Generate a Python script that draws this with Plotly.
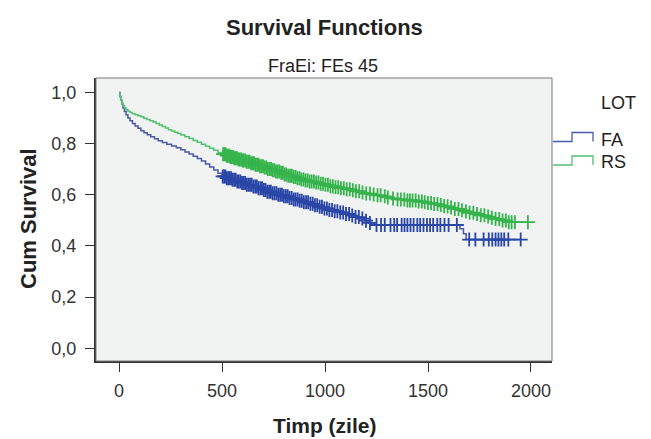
import numpy as np
import plotly.graph_objects as go

# ---------------- data ----------------
# FA group: Kaplan-Meier step points (time in days, cumulative survival)
fa_t = [0, 4, 8, 13, 19, 26, 34, 43, 53, 65, 78, 92, 106, 121, 137, 154, 172, 190, 210, 232,
        255, 278, 300, 320, 340, 360, 380, 400, 420, 440, 460, 480, 500, 520, 545, 570, 595,
        620, 645, 670, 695, 720, 745, 770, 795, 820, 845, 870, 895, 920, 945, 970, 995, 1020,
        1045, 1070, 1095, 1120, 1145, 1170, 1190, 1210, 1240, 1655, 1672, 1685]
fa_s = [1.0, 0.985, 0.97, 0.955, 0.94, 0.926, 0.913, 0.901, 0.89, 0.879, 0.869, 0.86, 0.851,
        0.843, 0.835, 0.827, 0.819, 0.812, 0.805, 0.798, 0.791, 0.784, 0.776, 0.768, 0.76,
        0.751, 0.742, 0.732, 0.721, 0.709, 0.697, 0.684, 0.672, 0.665, 0.659, 0.652, 0.646,
        0.639, 0.633, 0.626, 0.619, 0.612, 0.606, 0.6, 0.594, 0.588, 0.582, 0.577, 0.571,
        0.565, 0.559, 0.553, 0.547, 0.541, 0.536, 0.531, 0.525, 0.519, 0.513, 0.507, 0.499,
        0.49, 0.482, 0.467, 0.448, 0.425]
# FA censored times
fa_cens = [503, 510, 516, 523, 530, 537, 544, 551, 559, 566, 574, 581, 589, 597, 604, 612, 620,
           628, 636, 644, 652, 661, 669, 677, 686, 694, 703, 711, 720, 729, 737, 746, 755, 764,
           773, 782, 791, 800, 810, 819, 828, 838, 848, 857, 867, 877, 887, 897, 908, 918, 929,
           940, 951, 962, 974, 985, 997, 1009, 1021, 1034, 1047, 1060, 1074, 1088, 1102, 1117,
           1132, 1148, 1164, 1181, 1199, 1218, 1250, 1272, 1290, 1318, 1336, 1350, 1372, 1386,
           1400, 1415, 1430, 1448, 1462, 1478, 1495, 1510, 1525, 1545, 1560, 1580, 1600, 1640,
           1700, 1730, 1770, 1795, 1812, 1828, 1842, 1856, 1870, 1890, 1950]

# RS group
rs_t = [0, 4, 8, 13, 19, 26, 34, 43, 53, 65, 78, 92, 106, 120, 135, 150, 165, 180, 195, 210,
        225, 240, 255, 270, 285, 300, 320, 340, 360, 380, 400, 420, 440, 460, 480, 500, 520,
        540, 560, 580, 600, 620, 640, 660, 680, 700, 720, 740, 760, 780, 800, 820, 840, 860,
        880, 900, 925, 950, 975, 1000, 1025, 1050, 1075, 1100, 1125, 1150, 1175, 1200, 1225,
        1250, 1275, 1300, 1325, 1350, 1400, 1450, 1475, 1500, 1525, 1550, 1575, 1600, 1625,
        1650, 1675, 1700, 1725, 1750, 1775, 1800, 1825, 1850, 1880]
rs_s = [1.0, 0.985, 0.97, 0.958, 0.948, 0.94, 0.933, 0.927, 0.922, 0.917, 0.913, 0.909, 0.905,
        0.9, 0.895, 0.89, 0.885, 0.879, 0.873, 0.867, 0.861, 0.855, 0.85, 0.845, 0.84, 0.834,
        0.827, 0.82, 0.813, 0.806, 0.798, 0.79, 0.782, 0.774, 0.766, 0.759, 0.753, 0.748,
        0.743, 0.738, 0.734, 0.729, 0.724, 0.718, 0.712, 0.707, 0.701, 0.696, 0.691, 0.686,
        0.68, 0.675, 0.67, 0.665, 0.66, 0.656, 0.652, 0.648, 0.643, 0.639, 0.634, 0.63, 0.626,
        0.622, 0.618, 0.614, 0.609, 0.605, 0.601, 0.598, 0.594, 0.59, 0.586, 0.582, 0.578,
        0.574, 0.571, 0.568, 0.564, 0.56, 0.555, 0.55, 0.545, 0.54, 0.535, 0.53, 0.525, 0.52,
        0.515, 0.51, 0.505, 0.5, 0.493]
rs_cens = [505, 511, 517, 523, 529, 535, 541, 548, 554, 560, 567, 573, 580, 586, 593, 600, 606,
           613, 620, 627, 634, 641, 648, 655, 662, 670, 677, 684, 692, 699, 707, 715, 722, 730,
           738, 746, 754, 762, 770, 778, 787, 795, 804, 812, 821, 830, 839, 848, 857, 866, 876,
           885, 895, 905, 915, 925, 935, 946, 957, 968, 979, 990, 1002, 1014, 1026, 1038, 1051,
           1064, 1077, 1091, 1105, 1120, 1135, 1150, 1166, 1182, 1200, 1218, 1236, 1255, 1270,
           1290, 1305, 1330, 1352, 1368, 1385, 1400, 1412, 1425, 1440, 1455, 1470, 1484, 1500,
           1515, 1530, 1546, 1562, 1578, 1595, 1612, 1630, 1648, 1665, 1684, 1702, 1720, 1738,
           1756, 1774, 1792, 1810, 1828, 1846, 1862, 1878, 1892, 1906, 1922, 1985]

x_ticks = [0, 500, 1000, 1500, 2000]
y_ticks = [0.0, 0.2, 0.4, 0.6, 0.8, 1.0]

title = "Survival Functions"
subtitle = "FraEi: FEs 45"
x_title = "Timp (zile)"
y_title = "Cum Survival"
legend_title = "LOT"
groups = ["FA", "RS"]

# ---------------- styles ----------------
FA_LINE, FA_MARK = "#4a5aab", "#2a46a6"
RS_LINE, RS_MARK = "#52c171", "#36b44c"
FONT = "Liberation Sans, Arial, sans-serif"

W, H = 651, 439
L, R, T, B = 96, 552, 78, 361


def step_at(tt, ss, c):
    idx = np.searchsorted(np.asarray(tt), np.asarray(c), side="right") - 1
    return np.asarray(ss)[idx]


fig = go.Figure()

for tt, ss, cens, lc, mc, name in [(fa_t, fa_s, fa_cens, FA_LINE, FA_MARK, groups[0]),
                                    (rs_t, rs_s, rs_cens, RS_LINE, RS_MARK, groups[1])]:
    xs = list(tt) + [max(cens)]
    ys = list(ss) + [ss[-1]]
    fig.add_trace(go.Scatter(x=xs, y=ys, mode="lines", line=dict(color=lc, width=1.5, shape="hv"),
                             name=name, showlegend=False, hoverinfo="skip"))
    fig.add_trace(go.Scatter(x=cens, y=step_at(tt, ss, cens), mode="markers",
                             marker=dict(symbol="cross-thin", size=10, color=mc,
                                         line=dict(color=mc, width=1.8)),
                             name=name + " censored", showlegend=False))


def px(x):
    return (x - L) / (R - L)


def py(y):
    return (B - y) / (B - T)


shapes = [
    dict(type="rect", xref="paper", yref="paper", x0=0, x1=1, y0=0, y1=1,
         line=dict(color="#777777", width=1), layer="above"),
]
# legend step icons
for (ylow, yhigh, col) in [(141.5, 132.5, FA_LINE), (165, 156, RS_LINE)]:
    path = (f"M {px(553)} {py(ylow)} L {px(572)} {py(ylow)} L {px(572)} {py(yhigh)} "
            f"L {px(593)} {py(yhigh)} L {px(593)} {py(ylow)}")
    shapes.append(dict(type="path", xref="paper", yref="paper", path=path,
                       line=dict(color=col, width=1.3)))

annotations = [
    dict(text=f"<b>{title}</b>", x=px(324), y=py(27), xref="paper", yref="paper",
         showarrow=False, font=dict(family=FONT, size=22, color="#222222"),
         xanchor="center", yanchor="middle"),
    dict(text=subtitle, x=px(323), y=py(66), xref="paper", yref="paper",
         showarrow=False, font=dict(family=FONT, size=18, color="#222222"),
         xanchor="center", yanchor="middle"),
    dict(text=f"<b>{x_title}</b>", x=px(324), y=py(425), xref="paper", yref="paper",
         showarrow=False, font=dict(family=FONT, size=21, color="#222222"),
         xanchor="center", yanchor="middle"),
    dict(text=f"<b>{y_title}</b>", x=px(28), y=py(219), xref="paper", yref="paper",
         showarrow=False, textangle=-90, font=dict(family=FONT, size=22, color="#222222"),
         xanchor="center", yanchor="middle"),
    dict(text=legend_title, x=px(599), y=py(103), xref="paper", yref="paper",
         showarrow=False, font=dict(family=FONT, size=18, color="#222222"),
         xanchor="left", yanchor="middle"),
    dict(text=groups[0], x=px(599), y=py(140), xref="paper", yref="paper",
         showarrow=False, font=dict(family=FONT, size=18, color="#222222"),
         xanchor="left", yanchor="middle"),
    dict(text=groups[1], x=px(599), y=py(162), xref="paper", yref="paper",
         showarrow=False, font=dict(family=FONT, size=18, color="#222222"),
         xanchor="left", yanchor="middle"),
]

fig.update_layout(
    width=W, height=H,
    margin=dict(l=L, r=W - R, t=T, b=H - B, pad=0),
    paper_bgcolor="white", plot_bgcolor="#f1f2f2",
    separators=",.",
    showlegend=False,
    shapes=shapes, annotations=annotations,
    font=dict(family=FONT, size=18, color="#333333"),
)
fig.update_xaxes(range=[-112, 2102], tickvals=x_ticks, ticks="outside", ticklen=9,
                 tickcolor="#333333", tickwidth=1, showgrid=False, zeroline=False,
                 showline=True, linecolor="#333333", linewidth=2, ticklabelstandoff=3,
                 tickfont=dict(family=FONT, size=18, color="#333333"))
fig.update_yaxes(range=[-0.05, 1.057], tickvals=y_ticks, tickformat=".1f", ticks="outside",
                 ticklen=9, tickcolor="#333333", tickwidth=1, showgrid=False, zeroline=False,
                 showline=True, linecolor="#333333", linewidth=2, ticklabelstandoff=5,
                 tickfont=dict(family=FONT, size=18, color="#333333"))

fig.write_html("out.html", config={"displayModeBar": False},
               post_script="document.body.style.margin='0';document.body.style.padding='0';")
